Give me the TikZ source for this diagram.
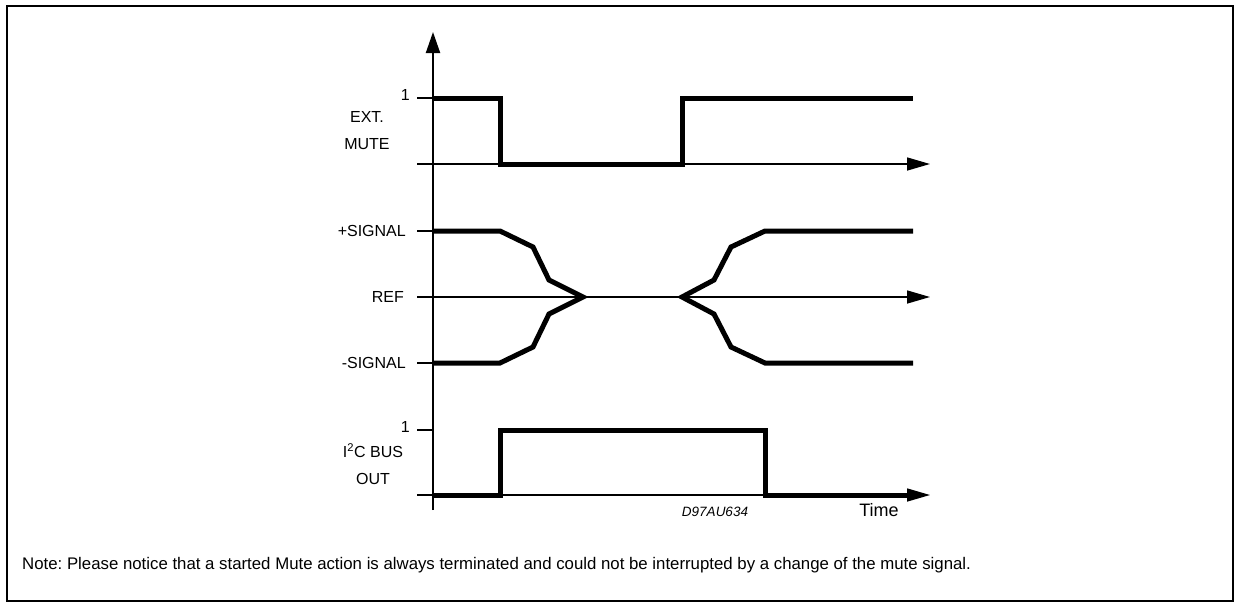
\documentclass[tikz,border=0pt]{standalone}
\usepackage{fontspec}
\setmainfont{Liberation Sans}
\usetikzlibrary{arrows.meta}
\frenchspacing

\tikzset{
  wave/.style={line width=5pt, line join=miter},
  timeaxis/.style={line width=1.5pt, -{Triangle[length=23pt,width=13pt]}},
  lbl/.style={font=\fontsize{16}{27}\selectfont, inner sep=0pt},
}

\begin{document}
\begin{tikzpicture}[x=1pt,y=-1pt]
    \useasboundingbox (0,0) rectangle (1239,606);
    \draw[line width=2pt] (7,6) rectangle (1233,601);

    % axes
    \draw[line width=2pt, -{Triangle[length=21pt,width=14pt]}] (433,510) -- (433,32);
    \draw[timeaxis] (417,164) -- (930,164);
    \draw[timeaxis] (417,297) -- (930,297);
    \draw[timeaxis] (417,495) -- (930,495);
    \draw[line width=1.5pt] (417,98) -- (433,98);
    \draw[line width=1.5pt] (417,231) -- (433,231);
    \draw[line width=1.5pt] (417,363) -- (433,363);
    \draw[line width=1.5pt] (417,430) -- (433,430);

    % signals
    \draw[wave] (433,98) -- (500,98) -- (500,164) -- (682,164) -- (682,98) -- (913,98);
    \draw[wave] (433,231) -- (500,231) -- (533,247) -- (549,280) -- (583,297)
        -- (549,314) -- (533,347) -- (500,363) -- (433,363);
    \draw[wave] (913,231) -- (765,231) -- (731,247) -- (714,280) -- (682,297)
        -- (714,314) -- (731,347) -- (765,363) -- (913,363);
    \draw[wave] (433,495) -- (500,495) -- (500,430) -- (765,430) -- (765,495) -- (910,495);

    % labels
    \node[lbl, anchor=east] (one1) at (410,95) {1};
    \node[lbl, align=center] (mute) at (367,131) {EXT.\\MUTE};
    \node[lbl, anchor=east] (plus) at (406,231) {+SIGNAL};
    \node[lbl, anchor=east] (ref) at (404,297) {REF};
    \node[lbl, anchor=east] (minus) at (406,363) {-SIGNAL};
    \node[lbl, anchor=east] (one2) at (410,427) {1};
    \node[lbl, align=center] (bus) at (373,464) {I\textsuperscript{2}C BUS\\OUT};
    \node[inner sep=0pt, font=\fontsize{13.5}{15}\selectfont\itshape] (code) at (715,512) {D97AU634};
    \node[lbl, font=\fontsize{18}{20}\selectfont] (time) at (879,510) {Time};
    \node[lbl, anchor=west, font=\fontsize{16.8}{19}\selectfont] (note) at (22,565) {Note: Please notice that a started Mute action is always terminated and could not be interrupted by a change of the mute signal.};
\end{tikzpicture}
\end{document}
